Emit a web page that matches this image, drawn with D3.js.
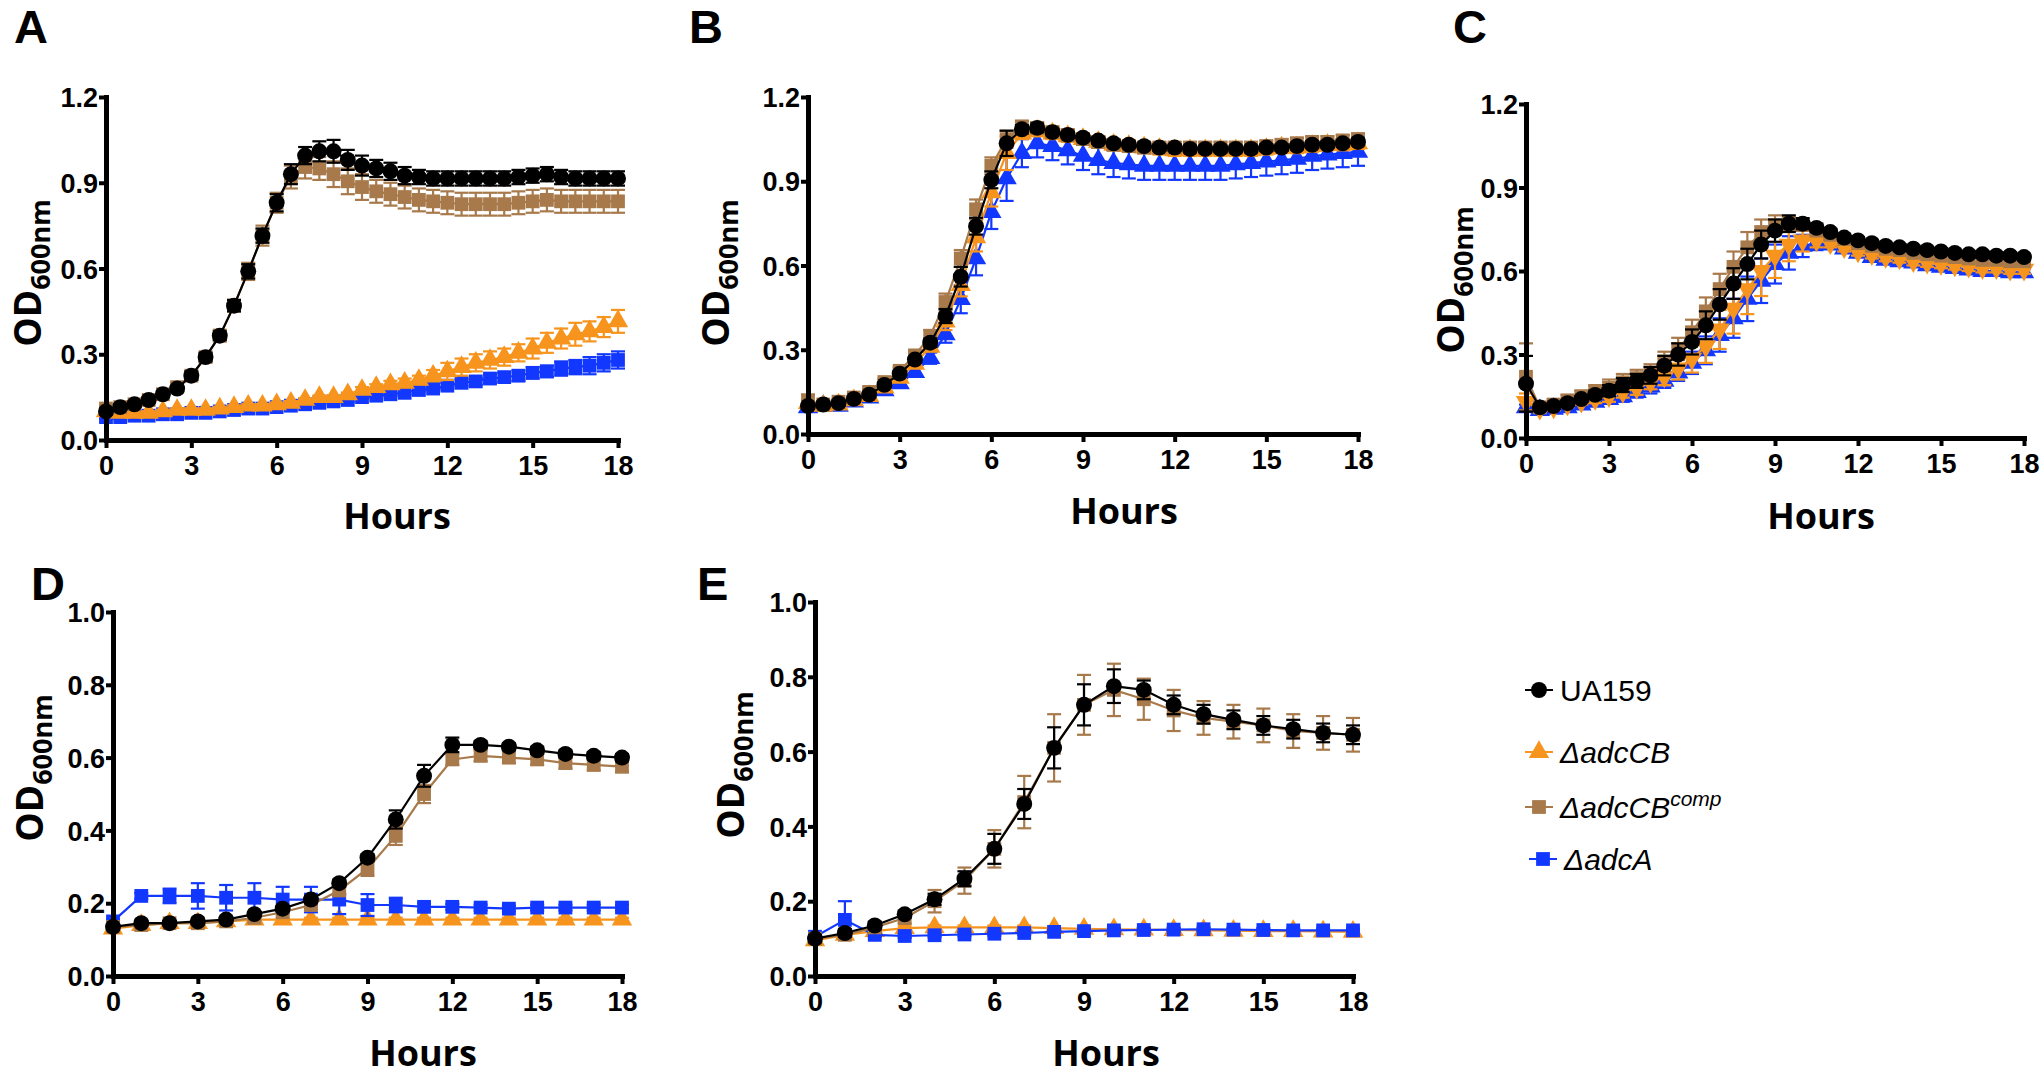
<!DOCTYPE html>
<html><head><meta charset="utf-8">
<script src="https://cdn.jsdelivr.net/npm/d3@7"></script>
<style>body{margin:0;background:#fff} svg{display:block}</style>
</head><body>
<svg id="c" width="2040" height="1080"></svg>
<script>
// ---------- data ----------
const timesHalf = [0,0.5,1,1.5,2,2.5,3,3.5,4,4.5,5,5.5,6,6.5,7,7.5,8,8.5,9,9.5,10,10.5,11,11.5,12,12.5,13,13.5,14,14.5,15,15.5,16,16.5,17,17.5,18];
const timesHour = [0,1,2,3,4,5,6,7,8,9,10,11,12,13,14,15,16,17,18];
const xTicks = [0,3,6,9,12,15,18];
const yTicks12 = [0,0.3,0.6,0.9,1.2];
const yTicks10 = [0,0.2,0.4,0.6,0.8,1.0];
const strains = ["UA159","ΔadcCB","ΔadcCBcomp","ΔadcA"];

// Panel A
const aUA   = [0.10,0.115,0.125,0.14,0.16,0.18,0.225,0.29,0.365,0.47,0.59,0.715,0.83,0.93,0.995,1.01,1.01,0.98,0.96,0.95,0.94,0.925,0.92,0.915,0.915,0.915,0.915,0.915,0.915,0.92,0.925,0.93,0.92,0.915,0.915,0.915,0.915];
const aUAe  = [0.01,0.01,0.01,0.01,0.01,0.01,0.015,0.015,0.015,0.02,0.025,0.025,0.03,0.035,0.03,0.035,0.04,0.035,0.035,0.03,0.03,0.03,0.025,0.025,0.025,0.025,0.025,0.025,0.025,0.025,0.025,0.025,0.025,0.025,0.025,0.025,0.025];
const aComp = [0.11,0.115,0.125,0.14,0.16,0.185,0.225,0.29,0.365,0.47,0.59,0.715,0.83,0.92,0.955,0.95,0.93,0.905,0.885,0.87,0.86,0.85,0.84,0.835,0.83,0.825,0.825,0.825,0.825,0.83,0.835,0.84,0.835,0.835,0.835,0.835,0.835];
const aCompe= [0.01,0.01,0.01,0.01,0.01,0.015,0.015,0.015,0.02,0.02,0.03,0.035,0.035,0.04,0.04,0.04,0.045,0.045,0.045,0.04,0.04,0.04,0.04,0.04,0.04,0.04,0.04,0.04,0.04,0.04,0.04,0.04,0.04,0.04,0.04,0.04,0.04];
const aCB   = [0.10,0.095,0.095,0.095,0.10,0.105,0.105,0.105,0.11,0.115,0.12,0.12,0.125,0.13,0.14,0.15,0.15,0.16,0.175,0.185,0.195,0.20,0.21,0.225,0.24,0.255,0.27,0.28,0.29,0.305,0.32,0.34,0.355,0.37,0.38,0.395,0.415];
const aCBe  = [0.006,0.006,0.006,0.006,0.006,0.006,0.006,0.006,0.006,0.006,0.006,0.006,0.006,0.006,0.006,0.006,0.006,0.006,0.01,0.01,0.012,0.015,0.015,0.02,0.03,0.03,0.03,0.03,0.03,0.03,0.035,0.035,0.035,0.04,0.035,0.035,0.04];
const aA    = [0.08,0.08,0.085,0.085,0.09,0.09,0.095,0.095,0.10,0.105,0.11,0.11,0.115,0.12,0.125,0.13,0.135,0.14,0.15,0.155,0.16,0.165,0.175,0.18,0.19,0.20,0.205,0.215,0.22,0.225,0.235,0.24,0.25,0.255,0.26,0.27,0.28];
const aAe   = [0.006,0.006,0.006,0.006,0.006,0.006,0.006,0.006,0.006,0.006,0.006,0.006,0.006,0.006,0.006,0.006,0.006,0.006,0.006,0.006,0.006,0.006,0.006,0.006,0.01,0.012,0.012,0.015,0.015,0.018,0.02,0.02,0.025,0.025,0.03,0.03,0.03];

// Panel B
const bUA   = [0.10,0.105,0.11,0.125,0.14,0.175,0.215,0.265,0.325,0.42,0.56,0.74,0.905,1.035,1.085,1.09,1.075,1.065,1.055,1.045,1.035,1.03,1.025,1.02,1.02,1.015,1.015,1.015,1.015,1.015,1.02,1.02,1.025,1.03,1.03,1.035,1.04];
const bUAe  = [0.01,0.01,0.01,0.01,0.01,0.01,0.01,0.01,0.015,0.025,0.035,0.03,0.03,0.045,0.015,0.015,0.012,0.012,0.012,0.012,0.012,0.012,0.012,0.012,0.012,0.012,0.012,0.012,0.012,0.012,0.012,0.012,0.012,0.012,0.012,0.012,0.012];
const bComp = [0.12,0.105,0.115,0.13,0.15,0.185,0.225,0.28,0.35,0.47,0.625,0.8,0.955,1.05,1.095,1.09,1.075,1.065,1.05,1.04,1.03,1.025,1.02,1.02,1.02,1.02,1.02,1.02,1.02,1.02,1.025,1.03,1.035,1.04,1.04,1.045,1.05];
const bCompe= [0.02,0.01,0.01,0.01,0.01,0.01,0.012,0.015,0.02,0.03,0.03,0.035,0.03,0.03,0.02,0.02,0.02,0.02,0.02,0.02,0.02,0.02,0.02,0.02,0.02,0.02,0.02,0.02,0.02,0.02,0.02,0.02,0.02,0.02,0.02,0.02,0.02];
const bCB   = [0.11,0.10,0.105,0.12,0.135,0.165,0.2,0.25,0.31,0.4,0.53,0.7,0.86,1.0,1.07,1.08,1.07,1.06,1.05,1.04,1.03,1.025,1.02,1.015,1.01,1.01,1.01,1.01,1.01,1.01,1.015,1.02,1.02,1.025,1.03,1.03,1.035];
const bCBe  = [0.01,0.01,0.01,0.01,0.01,0.01,0.01,0.01,0.015,0.03,0.04,0.05,0.05,0.06,0.02,0.02,0.02,0.02,0.02,0.02,0.02,0.02,0.02,0.02,0.02,0.02,0.02,0.02,0.02,0.02,0.02,0.02,0.02,0.02,0.02,0.02,0.02];
const bA    = [0.095,0.10,0.10,0.115,0.13,0.155,0.18,0.22,0.27,0.355,0.48,0.625,0.79,0.91,1.0,1.035,1.025,1.01,0.99,0.975,0.965,0.96,0.955,0.955,0.955,0.955,0.955,0.955,0.96,0.965,0.97,0.975,0.98,0.99,0.995,1.0,1.005];
const bAe   = [0.01,0.01,0.01,0.01,0.01,0.01,0.012,0.015,0.02,0.03,0.05,0.06,0.06,0.08,0.05,0.05,0.05,0.05,0.05,0.05,0.05,0.05,0.05,0.05,0.05,0.05,0.05,0.05,0.05,0.05,0.05,0.05,0.05,0.05,0.05,0.05,0.05];

// Panel C
const cUA   = [0.195,0.11,0.115,0.125,0.14,0.155,0.17,0.19,0.205,0.225,0.26,0.3,0.345,0.405,0.48,0.555,0.625,0.695,0.745,0.77,0.77,0.755,0.74,0.72,0.71,0.70,0.69,0.685,0.68,0.675,0.67,0.665,0.66,0.66,0.655,0.655,0.65];
const cUAe  = [0.1,0.01,0.01,0.01,0.01,0.015,0.02,0.025,0.025,0.03,0.035,0.04,0.045,0.05,0.055,0.055,0.055,0.05,0.04,0.03,0.02,0.015,0.012,0.012,0.012,0.012,0.012,0.012,0.012,0.012,0.012,0.012,0.012,0.012,0.012,0.012,0.012];
const cComp = [0.22,0.11,0.12,0.135,0.15,0.165,0.18,0.2,0.215,0.235,0.275,0.32,0.38,0.455,0.535,0.615,0.685,0.74,0.765,0.77,0.765,0.745,0.73,0.715,0.70,0.69,0.68,0.675,0.665,0.66,0.655,0.65,0.645,0.64,0.64,0.635,0.635];
const cCompe= [0.12,0.02,0.02,0.02,0.02,0.025,0.03,0.03,0.03,0.03,0.035,0.04,0.045,0.05,0.055,0.055,0.055,0.045,0.035,0.025,0.02,0.015,0.012,0.012,0.012,0.012,0.012,0.012,0.012,0.012,0.012,0.012,0.012,0.012,0.012,0.012,0.012];
const cCB   = [0.13,0.105,0.11,0.12,0.13,0.14,0.15,0.165,0.18,0.2,0.22,0.25,0.285,0.33,0.39,0.465,0.535,0.6,0.655,0.695,0.71,0.71,0.70,0.685,0.67,0.66,0.65,0.645,0.635,0.63,0.625,0.62,0.615,0.61,0.61,0.605,0.605];
const cCBe  = [0.03,0.01,0.01,0.01,0.01,0.015,0.02,0.02,0.025,0.025,0.03,0.04,0.05,0.06,0.07,0.09,0.09,0.09,0.08,0.06,0.04,0.025,0.015,0.015,0.015,0.015,0.015,0.015,0.015,0.015,0.015,0.015,0.015,0.015,0.015,0.015,0.015];
const cA    = [0.11,0.10,0.105,0.11,0.12,0.13,0.14,0.15,0.165,0.185,0.205,0.235,0.27,0.315,0.37,0.43,0.5,0.565,0.625,0.665,0.69,0.70,0.695,0.68,0.665,0.65,0.64,0.635,0.63,0.62,0.615,0.61,0.605,0.60,0.60,0.595,0.595];
const cAe   = [0.01,0.01,0.01,0.01,0.01,0.01,0.015,0.02,0.02,0.025,0.025,0.03,0.04,0.05,0.06,0.07,0.08,0.08,0.07,0.06,0.04,0.025,0.012,0.012,0.012,0.012,0.012,0.012,0.012,0.012,0.012,0.012,0.012,0.012,0.012,0.012,0.012];

// Panel D
const dUA   = [0.135,0.145,0.145,0.15,0.155,0.17,0.185,0.21,0.255,0.325,0.43,0.55,0.635,0.635,0.63,0.62,0.61,0.605,0.60];
const dUAe  = [0.005,0.005,0.005,0.005,0.005,0.005,0.005,0.01,0.01,0.01,0.025,0.03,0.02,0.01,0.01,0.01,0.01,0.01,0.01];
const dComp = [0.135,0.14,0.145,0.145,0.15,0.16,0.175,0.195,0.235,0.295,0.385,0.50,0.595,0.605,0.60,0.595,0.585,0.58,0.575];
const dCompe= [0.005,0.005,0.005,0.005,0.005,0.005,0.005,0.01,0.01,0.02,0.025,0.025,0.015,0.015,0.015,0.015,0.015,0.015,0.015];
const dCB   = [0.13,0.14,0.145,0.145,0.15,0.155,0.155,0.155,0.155,0.155,0.155,0.155,0.155,0.155,0.155,0.155,0.155,0.155,0.155];
const dCBe  = [0.005,0.005,0.005,0.005,0.005,0.005,0.005,0.005,0.005,0.005,0.005,0.005,0.005,0.005,0.005,0.005,0.005,0.005,0.005];
const dA    = [0.15,0.22,0.22,0.22,0.215,0.215,0.21,0.21,0.21,0.195,0.195,0.19,0.19,0.188,0.185,0.188,0.188,0.188,0.188];
const dAe   = [0.005,0.008,0.02,0.035,0.035,0.04,0.035,0.035,0.04,0.03,0.02,0.01,0.008,0.008,0.008,0.008,0.008,0.008,0.008];

// Panel E
const eUA   = [0.10,0.115,0.135,0.165,0.205,0.26,0.34,0.46,0.61,0.725,0.775,0.765,0.725,0.70,0.685,0.67,0.66,0.65,0.645];
const eUAe  = [0.01,0.01,0.01,0.01,0.015,0.02,0.04,0.04,0.055,0.055,0.045,0.025,0.025,0.025,0.025,0.025,0.025,0.025,0.025];
const eComp = [0.10,0.11,0.13,0.155,0.20,0.255,0.34,0.465,0.61,0.725,0.765,0.74,0.71,0.69,0.68,0.67,0.655,0.65,0.645];
const eCompe= [0.01,0.01,0.01,0.015,0.03,0.035,0.05,0.07,0.09,0.08,0.07,0.055,0.055,0.045,0.045,0.045,0.045,0.045,0.045];
const eCB   = [0.095,0.11,0.12,0.128,0.13,0.13,0.13,0.13,0.128,0.126,0.125,0.124,0.123,0.122,0.121,0.12,0.12,0.119,0.118];
const eCBe  = [0.005,0.005,0.005,0.005,0.005,0.005,0.005,0.005,0.005,0.005,0.005,0.005,0.005,0.005,0.005,0.005,0.005,0.005,0.005];
const eA    = [0.105,0.15,0.11,0.107,0.109,0.111,0.113,0.115,0.118,0.12,0.122,0.123,0.124,0.125,0.124,0.123,0.122,0.122,0.122];
const eAe   = [0.01,0.05,0.005,0.005,0.005,0.005,0.005,0.005,0.005,0.005,0.005,0.005,0.005,0.005,0.005,0.005,0.005,0.005,0.005];

// ---------- styles ----------
const colors = {UA:"#000000", CB:"#F7941D", Comp:"#A8794A", A:"#1238FF"};
const svg = d3.select("#c");
const TICKFONT = "'Liberation Sans', Arial, sans-serif";
const LABFONT = "'Open Sans', 'Liberation Sans', sans-serif";

const panels = [
  {letter:"A", lx:14, ly:43, x0:106, x1:618, y0:440, y1:97, ymax:1.2, yticks:yTicks12, t:timesHalf, hx:397, hy:529, odx:41, ody:273,
   series:[{k:"A",v:aA,e:aAe,sym:"square"},{k:"CB",v:aCB,e:aCBe,sym:"tri"},{k:"Comp",v:aComp,e:aCompe,sym:"square"},{k:"UA",v:aUA,e:aUAe,sym:"circle"}]},
  {letter:"B", lx:689, ly:43, x0:808, x1:1358, y0:434, y1:97, ymax:1.2, yticks:yTicks12, t:timesHalf, hx:1124, hy:524, odx:729, ody:273,
   series:[{k:"A",v:bA,e:bAe,sym:"tri"},{k:"CB",v:bCB,e:bCBe,sym:"tri"},{k:"Comp",v:bComp,e:bCompe,sym:"square"},{k:"UA",v:bUA,e:bUAe,sym:"circle"}]},
  {letter:"C", lx:1453, ly:43, x0:1526, x1:2024, y0:438, y1:104, ymax:1.2, yticks:yTicks12, t:timesHalf, hx:1821, hy:529, odx:1464, ody:280,
   series:[{k:"A",v:cA,e:cAe,sym:"tri"},{k:"CB",v:cCB,e:cCBe,sym:"tridown"},{k:"Comp",v:cComp,e:cCompe,sym:"square"},{k:"UA",v:cUA,e:cUAe,sym:"circle"}]},
  {letter:"D", lx:31, ly:600, x0:113, x1:622, y0:976, y1:612, ymax:1.0, yticks:yTicks10, t:timesHour, hx:423, hy:1066, odx:43, ody:768,
   series:[{k:"CB",v:dCB,e:dCBe,sym:"tri"},{k:"A",v:dA,e:dAe,sym:"square"},{k:"Comp",v:dComp,e:dCompe,sym:"square"},{k:"UA",v:dUA,e:dUAe,sym:"circle"}]},
  {letter:"E", lx:697, ly:600, x0:815, x1:1353, y0:976, y1:602, ymax:1.0, yticks:yTicks10, t:timesHour, hx:1106, hy:1066, odx:744, ody:765,
   series:[{k:"CB",v:eCB,e:eCBe,sym:"tri"},{k:"A",v:eA,e:eAe,sym:"square"},{k:"Comp",v:eComp,e:eCompe,sym:"square"},{k:"UA",v:eUA,e:eUAe,sym:"circle"}]}
];

function symPath(sym){
  if(sym==="circle") return d3.symbol().type(d3.symbolCircle).size(200)();
  if(sym==="square") return d3.symbol().type(d3.symbolSquare).size(190)();
  return d3.symbol().type(d3.symbolTriangle).size(180)();
}

panels.forEach(p => {
  const x = d3.scaleLinear().domain([0,18]).range([p.x0,p.x1]);
  const y = d3.scaleLinear().domain([0,p.ymax]).range([p.y0,p.y1]);
  const g = svg.append("g");

  p.series.forEach(s => {
    const col = colors[s.k];
    const pts = p.t.map((t,i)=>({t, v:s.v[i], e:s.e[i]}));
    const sg = g.append("g");
    const eb = sg.selectAll("g.eb").data(pts).join("g").attr("class","eb")
      .attr("stroke",col).attr("stroke-width",2.2).attr("fill","none");
    eb.append("line").attr("x1",d=>x(d.t)).attr("x2",d=>x(d.t)).attr("y1",d=>y(d.v+d.e)).attr("y2",d=>y(d.v-d.e));
    eb.append("line").attr("x1",d=>x(d.t)-7).attr("x2",d=>x(d.t)+7).attr("y1",d=>y(d.v+d.e)).attr("y2",d=>y(d.v+d.e));
    eb.append("line").attr("x1",d=>x(d.t)-7).attr("x2",d=>x(d.t)+7).attr("y1",d=>y(d.v-d.e)).attr("y2",d=>y(d.v-d.e));
    sg.append("path").datum(pts).attr("fill","none").attr("stroke",col).attr("stroke-width",2.2)
      .attr("d", d3.line().x(d=>x(d.t)).y(d=>y(d.v)));
    sg.selectAll("path.m").data(pts).join("path").attr("class","m")
      .attr("d", symPath(s.sym)).attr("fill",col)
      .attr("transform", d=>`translate(${x(d.t)},${y(d.v)})${s.sym==="tridown"?" rotate(180)":""}`);
  });

  const ya = d3.axisLeft(y).tickValues(p.yticks).tickFormat(d3.format(".1f")).tickSize(7).tickSizeOuter(0).tickPadding(1);
  const xa = d3.axisBottom(x).tickValues(xTicks).tickFormat(d3.format("d")).tickSize(8).tickSizeOuter(0).tickPadding(8);
  const gy = svg.append("g").attr("transform",`translate(${p.x0},0)`).call(ya);
  const gx = svg.append("g").attr("transform",`translate(0,${p.y0})`).call(xa);
  [gx,gy].forEach(ax => {
    ax.select(".domain").attr("stroke","#000").attr("stroke-width",5).attr("stroke-linecap","square");
    ax.selectAll(".tick line").attr("stroke","#000").attr("stroke-width",4);
    ax.selectAll(".tick text").attr("fill","#000").style("font-family",TICKFONT).style("font-weight","bold").style("font-size","27px");
  });
  gy.selectAll(".tick text").attr("dy","0.36em");
  gx.selectAll(".tick text").attr("dy","0.72em");

  svg.append("text").attr("x",p.lx).attr("y",p.ly).text(p.letter)
    .style("font-family",TICKFONT).style("font-weight","bold").style("font-size","47px");
  svg.append("text").attr("x",p.hx).attr("y",p.hy).attr("text-anchor","middle").text("Hours")
    .style("font-family",LABFONT).style("font-weight","bold").style("font-size","36px");
  const od = svg.append("text").attr("transform",`translate(${p.odx},${p.ody}) rotate(-90)`).attr("text-anchor","middle")
    .style("font-family",LABFONT).style("font-weight","bold").style("font-size","37px");
  od.append("tspan").text("OD");
  od.append("tspan").attr("dy",9).style("font-size","27px").text("600nm");
});

// ---------- legend ----------
const legKeys = ["UA","CB","Comp","A"];
const legSyms = ["circle","tri","square","square"];
const legY = [690, 752, 807, 859];
const lg = svg.append("g");
legKeys.forEach((k,i) => {
  const col = colors[k];
  const cx = 1539 + (i===3?4:0);
  lg.append("line").attr("x1",cx-14).attr("x2",cx+14).attr("y1",legY[i]).attr("y2",legY[i]).attr("stroke",col).attr("stroke-width",2);
  lg.append("path").attr("d",symPath(legSyms[i])).attr("fill",col).attr("transform",`translate(${cx},${legY[i]})`);
  const tx = lg.append("text").attr("x",1560 + (i===3?4:0)).attr("y",legY[i]+11)
    .style("font-family","'Liberation Sans', Arial, sans-serif").style("font-size","30px").attr("fill","#000");
  if(i===0){ tx.text(strains[0]); }
  else if(i===1){ tx.style("font-style","italic").text(strains[1]); }
  else if(i===2){ tx.style("font-style","italic"); tx.append("tspan").text("ΔadcCB"); tx.append("tspan").attr("dy",-12).style("font-size","21px").text("comp"); }
  else { tx.style("font-style","italic").text(strains[3]); }
});
</script>
</body></html>
